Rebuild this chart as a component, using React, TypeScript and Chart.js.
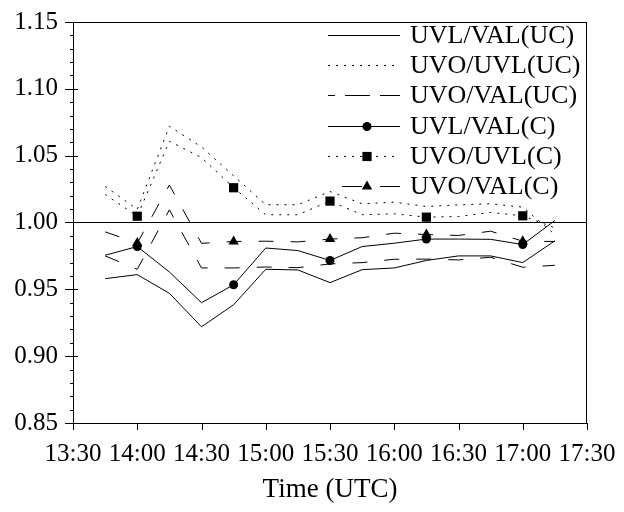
import { useEffect, useRef } from "react";
import { Chart, registerables } from "chart.js";

Chart.register(...registerables);

// ---- data ----
const times = ["13:45", "14:00", "14:15", "14:30", "14:45", "15:00", "15:15", "15:30", "15:45", "16:00", "16:15", "16:30", "16:45", "17:00", "17:15"];
const markerTimes = ["14:00", "14:45", "15:30", "16:15", "17:00"];
const xTickLabels = ["13:30", "14:00", "14:30", "15:00", "15:30", "16:00", "16:30", "17:00", "17:30"];
const yTickLabels = ["0.85", "0.90", "0.95", "1.00", "1.05", "1.10", "1.15"];
const seriesLabels = ["UVL/VAL(UC)", "UVO/UVL(UC)", "UVO/VAL(UC)", "UVL/VAL(C)", "UVO/UVL(C)", "UVO/VAL(C)"];
const xTitle = "Time (UTC)";

const uvlValUC = [0.958, 0.961, 0.947, 0.922, 0.9385, 0.965, 0.9645, 0.955, 0.9647, 0.966, 0.9716, 0.975, 0.975, 0.970, 0.9863];
const uvoUvlUC = [1.027, 1.0098, 1.072, 1.0565, 1.035, 1.0133, 1.0133, 1.0232, 1.014, 1.0152, 1.012, 1.0132, 1.014, 1.0115, 0.991];
const uvoValUC = [0.975, 0.965, 1.0095, 0.966, 0.966, 0.9667, 0.9662, 0.969, 0.970, 0.9725, 0.9726, 0.972, 0.974, 0.9665, 0.968];
const uvlValC = [0.9755, 0.982, 0.963, 0.940, 0.9534, 0.9809, 0.979, 0.9716, 0.982, 0.9845, 0.9876, 0.9876, 0.9874, 0.9835, 1.0015];
const uvoUvlC = [1.021, 1.0047, 1.0608, 1.0486, 1.026, 1.0058, 1.0058, 1.016, 1.0058, 1.0065, 1.004, 1.0045, 1.0075, 1.005, 0.996];
const uvoValC = [0.993, 0.9846, 1.028, 0.9844, 0.9858, 0.986, 0.9855, 0.9876, 0.9886, 0.992, 0.991, 0.9903, 0.9935, 0.986, 0.9858];
const referenceValue = 1.0;

const seriesValues = [uvlValUC, uvoUvlUC, uvoValUC, uvlValC, uvoUvlC, uvoValC];
const seriesLine = ["solid", "dotted", "dashed", "solid", "dotted", "dashed"];
const seriesMarker = ["", "", "", "circle", "rect", "triangle"];

const toMin = (t: string) => {
  const [h, m] = t.split(":").map(Number);
  return h * 60 + m;
};
const fmt = (v: number) => {
  const h = Math.floor(v / 60);
  const m = Math.round(v - h * 60);
  return `${h}:${m < 10 ? "0" : ""}${m}`;
};

const FONT = "'Liberation Serif', 'Times New Roman', Times, serif";
const dashFor = (kind: string) => (kind === "dotted" ? [2, 6] : kind === "dashed" ? [15, 17] : []);
const radiusFor = (m: string) => (m === "circle" ? 4.5 : m === "rect" ? 6.5 : m === "triangle" ? 6 : 0);

function drawMarker(ctx: CanvasRenderingContext2D, kind: string, x: number, y: number) {
  ctx.fillStyle = "#000";
  ctx.beginPath();
  if (kind === "circle") {
    ctx.arc(x, y, 4.5, 0, Math.PI * 2);
  } else if (kind === "rect") {
    ctx.rect(x - 4.6, y - 4.6, 9.2, 9.2);
  } else if (kind === "triangle") {
    const r = 6;
    ctx.moveTo(x, y - r);
    ctx.lineTo(x + r * Math.sin((2 * Math.PI) / 3), y - r * Math.cos((2 * Math.PI) / 3));
    ctx.lineTo(x + r * Math.sin((4 * Math.PI) / 3), y - r * Math.cos((4 * Math.PI) / 3));
    ctx.closePath();
  }
  ctx.fill();
}

const framePlugin = {
  id: "frameAndLegend",
  afterDraw(chart: any) {
    const ctx: CanvasRenderingContext2D = chart.ctx;
    const { left, right, top, bottom } = chart.chartArea;
    const xs = chart.scales.x;
    const ys = chart.scales.y;
    ctx.save();
    ctx.strokeStyle = "#000";
    ctx.lineWidth = 1;
    ctx.setLineDash([]);
    ctx.strokeRect(left + 0.5, top + 0.5, right - left - 1, bottom - top);
    // y ticks (major + minor)
    const yMin = parseFloat(yTickLabels[0]);
    const yMax = parseFloat(yTickLabels[yTickLabels.length - 1]);
    const n = Math.round((yMax - yMin) / 0.01);
    ctx.beginPath();
    for (let i = 0; i <= n; i++) {
      const py = Math.round(ys.getPixelForValue(yMin + i * 0.01)) + 0.5;
      if (i % 5 === 0) {
        ctx.moveTo(left - 8, py);
        ctx.lineTo(left + 5, py);
      } else {
        ctx.moveTo(left - 3, py);
        ctx.lineTo(left + 1, py);
      }
    }
    // x ticks
    xTickLabels.forEach((l) => {
      const px = Math.round(xs.getPixelForValue(toMin(l))) + 0.5;
      ctx.moveTo(px, bottom);
      ctx.lineTo(px, bottom + 7);
    });
    ctx.stroke();

    // legend
    const rowY0 = 35;
    const rowGap = 30.2;
    const lx0 = 328;
    const lx1 = 400;
    const tx = 410;
    ctx.font = `26px ${FONT}`;
    ctx.textBaseline = "middle";
    ctx.textAlign = "left";
    seriesLabels.forEach((label, i) => {
      const y = Math.round(rowY0 + i * rowGap) + 0.5;
      const kind = seriesLine[i];
      const marker = seriesMarker[i];
      ctx.strokeStyle = "#000";
      ctx.lineWidth = 1;
      if (kind === "dotted") {
        ctx.setLineDash([2, 6]);
        ctx.lineDashOffset = 0;
      } else if (kind === "dashed") {
        if (marker) {
          ctx.setLineDash([20, 18]);
          ctx.lineDashOffset = 24;
        } else {
          ctx.setLineDash([25, 10]);
          ctx.lineDashOffset = 18;
        }
      } else {
        ctx.setLineDash([]);
      }
      ctx.beginPath();
      ctx.moveTo(lx0, y);
      ctx.lineTo(lx1, y);
      ctx.stroke();
      ctx.setLineDash([]);
      if (marker) drawMarker(ctx, marker, 367, y);
      ctx.fillStyle = "#000";
      ctx.fillText(label, tx, y + 1);
    });
    ctx.restore();
  },
};

export default function App() {
  const ref = useRef<HTMLCanvasElement | null>(null);
  useEffect(() => {
    if (!ref.current) return;
    Chart.defaults.font.family = FONT;
    Chart.defaults.font.size = 25;
    Chart.defaults.color = "#000";

    const datasets: any[] = seriesValues.map((vals, i) => ({
      label: seriesLabels[i],
      data: times.map((t, j) => ({ x: toMin(t), y: vals[j] })),
      borderColor: "#000",
      backgroundColor: "#000",
      borderWidth: 1,
      borderDash: dashFor(seriesLine[i]),
      tension: 0,
      fill: false,
      pointStyle: seriesMarker[i] || "circle",
      pointBackgroundColor: "#000",
      pointBorderColor: "#000",
      pointBorderWidth: 0,
      pointRadius: (c: any) =>
        seriesMarker[i] && markerTimes.includes(times[c.dataIndex]) ? radiusFor(seriesMarker[i]) : 0,
      pointHoverRadius: 0,
    }));
    datasets.push({
      label: "ref",
      data: [
        { x: toMin(xTickLabels[0]), y: referenceValue },
        { x: toMin(xTickLabels[xTickLabels.length - 1]), y: referenceValue },
      ],
      borderColor: "#000",
      borderWidth: 1,
      pointRadius: 0,
      tension: 0,
    });

    const hiddenTicks = {
      display: true,
      drawOnChartArea: false,
      drawTicks: true,
      color: "rgba(0,0,0,0)",
      tickColor: "rgba(0,0,0,0)",
    };

    const chart = new Chart(ref.current, {
      type: "line",
      data: { datasets },
      options: {
        animation: false,
        responsive: false,
        devicePixelRatio: 1,
        events: [],
        layout: { padding: { top: 22, right: 37, left: 0, bottom: 0 } },
        plugins: { legend: { display: false }, tooltip: { enabled: false } },
        scales: {
          x: {
            type: "linear",
            min: toMin(xTickLabels[0]),
            max: toMin(xTickLabels[xTickLabels.length - 1]),
            afterFit: (s: any) => {
              s.height = 89;
            },
            afterBuildTicks: (s: any) => {
              s.ticks = xTickLabels.map((l) => ({ value: toMin(l) }));
            },
            ticks: {
              callback: (v: any) => fmt(Number(v)),
              padding: 0,
              maxRotation: 0,
              autoSkip: false,
              color: "#000",
              font: { size: 25, family: FONT },
            },
            grid: { ...hiddenTicks, tickLength: 16 },
            border: { display: false },
            title: {
              display: true,
              text: xTitle,
              color: "#000",
              font: { size: 27, family: FONT },
              padding: { top: 0, bottom: 6 },
            },
          },
          y: {
            min: parseFloat(yTickLabels[0]),
            max: parseFloat(yTickLabels[yTickLabels.length - 1]),
            afterFit: (s: any) => {
              s.width = 73;
            },
            afterBuildTicks: (s: any) => {
              s.ticks = yTickLabels.map((l) => ({ value: parseFloat(l) }));
            },
            ticks: {
              callback: (v: any) => Number(v).toFixed(2),
              padding: 0,
              color: "#000",
              font: { size: 25, family: FONT },
            },
            grid: { ...hiddenTicks, tickLength: 15 },
            border: { display: false },
          },
        },
      },
      plugins: [framePlugin],
    });
    return () => chart.destroy();
  }, []);

  return (
    <div style={{ position: "fixed", left: 0, top: 0, width: 624, height: 512, background: "#fff" }}>
      <canvas ref={ref} width={624} height={512} style={{ display: "block", width: 624, height: 512 }} />
    </div>
  );
}
